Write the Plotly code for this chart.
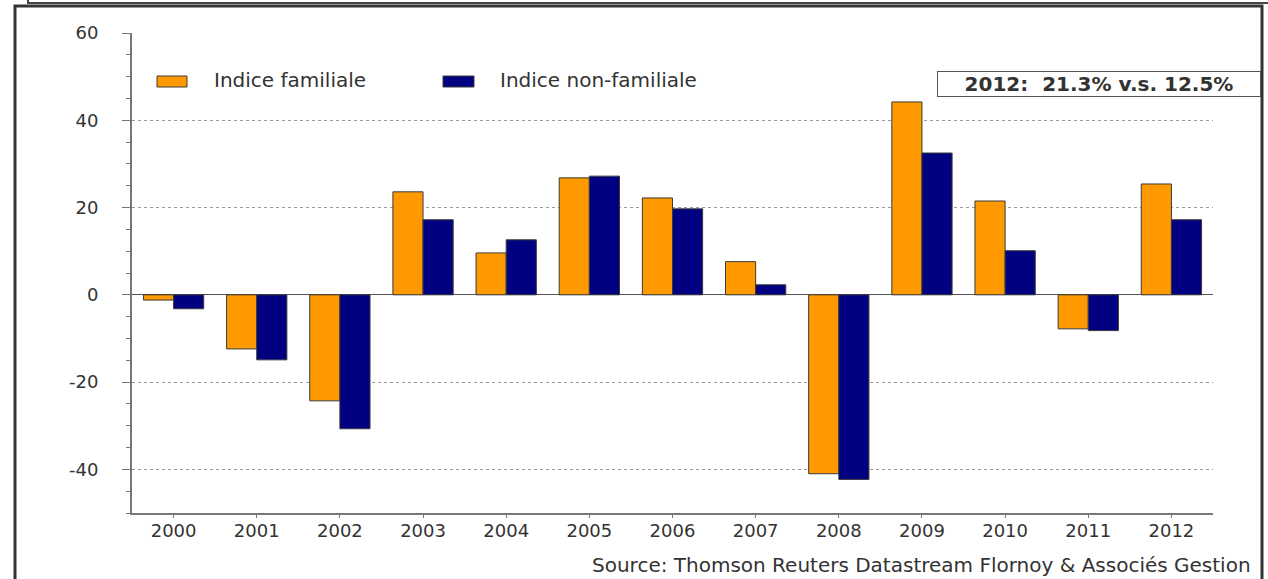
import plotly.graph_objects as go

# ---- data ----
years = ["2000", "2001", "2002", "2003", "2004", "2005", "2006",
         "2007", "2008", "2009", "2010", "2011", "2012"]
familiale = [-1.2, -12.4, -24.3, 23.6, 9.6, 26.8, 22.2, 7.6, -41.0, 44.2, 21.5, -7.8, 25.4]
non_familiale = [-3.2, -14.9, -30.7, 17.2, 12.6, 27.2, 19.7, 2.3, -42.3, 32.5, 10.1, -8.2, 17.2]
y_ticks = [-40, -20, 0, 20, 40, 60]
series_names = ["Indice familiale", "Indice non-familiale"]
annotation_text = "2012:  21.3% v.s. 12.5%"
source_text = "Source: Thomson Reuters Datastream Flornoy &amp; Associés Gestion"

# ---- layout geometry (pixels) ----
W, H = 1268, 579
L, R, T, B = 132, 1213, 33, 513


def px(x):
    return (x - L) / (R - L)


def py(y):
    return (B - y) / (B - T)


ORANGE = "#FF9900"
NAVY = "#000080"
EDGE = "#3a3a3a"
FONT = "DejaVu Sans"
TXT = "#333333"

fig = go.Figure()
fig.add_trace(go.Bar(x=years, y=familiale, name=series_names[0],
                     marker=dict(color=ORANGE, line=dict(color=EDGE, width=1)),
                     showlegend=False))
fig.add_trace(go.Bar(x=years, y=non_familiale, name=series_names[1],
                     marker=dict(color=NAVY, line=dict(color=EDGE, width=1)),
                     showlegend=False))

shapes = []
# outer frame
shapes.append(dict(type="rect", xref="paper", yref="paper",
                   x0=px(15), x1=px(1262), y0=py(620), y1=py(6),
                   line=dict(color="#333333", width=3), layer="above"))
# top box edge of the previous panel
shapes.append(dict(type="rect", xref="paper", yref="paper",
                   x0=px(28), x1=px(1300), y0=py(3), y1=py(-20),
                   line=dict(color="#444444", width=2), layer="above"))
# legend swatches
shapes.append(dict(type="rect", xref="paper", yref="paper",
                   x0=px(157), x1=px(187), y0=py(87), y1=py(76),
                   fillcolor=ORANGE, line=dict(color=EDGE, width=1)))
shapes.append(dict(type="rect", xref="paper", yref="paper",
                   x0=px(443), x1=px(474), y0=py(87), y1=py(76),
                   fillcolor=NAVY, line=dict(color=EDGE, width=1)))

annotations = [
    dict(xref="paper", yref="paper", x=px(212), y=py(80), xanchor="left", yanchor="middle",
         text=series_names[0], showarrow=False, font=dict(family=FONT, size=20, color=TXT)),
    dict(xref="paper", yref="paper", x=px(498), y=py(80), xanchor="left", yanchor="middle",
         text=series_names[1], showarrow=False, font=dict(family=FONT, size=20, color=TXT)),
    dict(xref="paper", yref="paper", x=px(1099), y=py(83.5), xanchor="center", yanchor="middle",
         text="<b>" + annotation_text + "</b>", showarrow=False,
         width=320, height=22, align="center", bgcolor="white",
         bordercolor="#555555", borderwidth=1, borderpad=1,
         font=dict(family=FONT, size=20, color=TXT)),
    dict(xref="paper", yref="paper", x=px(1253), y=py(579), xanchor="right", yanchor="bottom",
         text=source_text, showarrow=False, font=dict(family=FONT, size=20, color=TXT)),
]

fig.update_layout(
    width=W, height=H,
    margin=dict(l=L, r=W - R, t=T, b=H - B, pad=0),
    paper_bgcolor="white", plot_bgcolor="white",
    barmode="group", bargap=0.275, bargroupgap=0,
    shapes=shapes, annotations=annotations,
    font=dict(family=FONT, size=18, color=TXT),
)
fig.update_xaxes(
    type="category", showline=True, linecolor="#777777", linewidth=2,
    ticks="outside", ticklen=3, tickcolor="#777777", tickwidth=1,
    showgrid=False, mirror=False, zeroline=False,
    ticklabelstandoff=-3,
    tickfont=dict(family=FONT, size=18, color=TXT),
)
fig.update_yaxes(
    range=[-50, 60], tickvals=y_ticks, ticktext=[str(v) for v in y_ticks],
    showline=True, linecolor="#777777", linewidth=2,
    ticks="outside", ticklen=8, tickcolor="#777777", tickwidth=1,
    minor=dict(dtick=5, ticks="outside", ticklen=4, tickcolor="#777777", showgrid=False),
    showgrid=True, gridcolor="#999999", gridwidth=1, griddash="dot",
    zeroline=True, zerolinecolor="#555555", zerolinewidth=1,
    ticklabelstandoff=20,
    tickfont=dict(family=FONT, size=18, color=TXT),
)

fig.write_html("out.html")
